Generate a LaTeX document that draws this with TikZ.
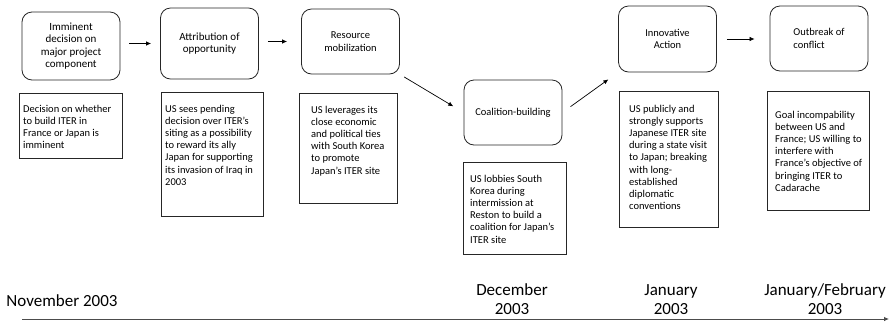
\documentclass[tikz,border=0pt]{standalone}
\usepackage{fontspec}
\setmainfont{Carlito}
\usetikzlibrary{arrows.meta, calc}

\begin{document}
\begin{tikzpicture}[x=1pt, y=-1pt,
    stage/.style={draw=black!85, line width=0.8pt, rounded corners=10pt, minimum width=98pt, align=center, font=\fontsize{10.5}{12.6}\selectfont},
    note/.style={draw=black!85, line width=0.8pt, anchor=north west},
    notetext/.style={anchor=base west, inner sep=0pt, font=\fontsize{10.5}{12.2}\selectfont},
    date/.style={anchor=base, inner sep=0pt, font=\fontsize{17}{19.5}\selectfont},
    flow/.style={-{Latex[length=5pt,width=4.5pt]}, line width=0.7pt}]
  \useasboundingbox (0,0) rectangle (892,325);

  % stages
  \node[stage, minimum height=68pt, font=\fontsize{11}{12.6}\selectfont] (r1) at (71,46) {Imminent\\decision on\\major project\\component};
  \node[stage, minimum height=71pt, font=\fontsize{11}{12.6}\selectfont] (r2) at (209.5,43.5) {Attribution of\\opportunity};
  \node[stage, minimum height=65pt] (r3) at (350.5,41.5) {Resource\\mobilization};
  \node[stage, minimum height=65pt] (r4) at (513,112.5) {Coalition-building};
  \node[stage, minimum height=66pt] (r5) at (667.5,39) {Innovative\\Action};
  \node[stage, minimum height=65pt, align=left] (r6) at (819,38.5) {Outbreak of\\conflict};

  \draw[flow, shorten <=9pt, shorten >=9pt] (r1.east |- r2.west) -- (r2.west);
  \draw[flow, shorten <=9pt, shorten >=14pt] (r2.east |- r3.west) -- (r3.west);
  \draw[flow, shorten <=5pt, shorten >=12pt] (r3.south east) -- (r4.west);
  \draw[flow, shorten <=10pt, shorten >=12pt] (r4.east) -- (r5.south west);
  \draw[flow, shorten <=10pt, shorten >=15pt] (r5.east) -- (r5.east -| r6.west);

  % notes
  \node[note, minimum width=103pt, minimum height=65pt] (n1) at (19,93) {};
  \node[notetext] (t1) at ($(n1.north west)+(4,19)$) {\parbox[t]{100pt}{\raggedright
    Decision on whether\\to build ITER in\\France or Japan is\\imminent}};
  \node[note, minimum width=102pt, minimum height=124pt] (n2) at (161,92) {};
  \node[notetext] (t2) at ($(n2.north west)+(4,20)$) {\parbox[t]{100pt}{\raggedright
    US sees pending\\decision over ITER’s\\siting as a possibility\\to reward its ally\\Japan for supporting\\its invasion of Iraq in\\2003}};
  \node[note, minimum width=98pt, minimum height=110pt] (n3) at (299,93) {};
  \node[notetext] (t3) at ($(n3.north west)+(12,20)$) {\parbox[t]{90pt}{\raggedright
    US leverages its\\close economic\\and political ties\\with South Korea\\to promote\\Japan’s ITER site}};
  \node[note, minimum width=103pt, minimum height=92pt] (n4) at (463,162) {};
  \node[notetext] (t4) at ($(n4.north west)+(7,20)$) {\parbox[t]{100pt}{\raggedright
    US lobbies South\\Korea during\\intermission at\\Reston to build a\\coalition for Japan’s\\ITER site}};
  \node[note, minimum width=99pt, minimum height=136pt] (n5) at (619,91) {};
  \node[notetext] (t5) at ($(n5.north west)+(10,21)$) {\parbox[t]{100pt}{\raggedright
    US publicly and\\strongly supports\\Japanese ITER site\\during a state visit\\to Japan; breaking\\with long-\\established\\diplomatic\\conventions}};
  \node[note, minimum width=102pt, minimum height=119pt] (n6) at (767,91) {};
  \node[notetext] (t6) at ($(n6.north west)+(8,27)$) {\parbox[t]{100pt}{\raggedright
    Goal incompability\\between US and\\France; US willing to\\interfere with\\France’s objective of\\bringing ITER to\\Cadarache}};

  % timeline
  \coordinate (tl-start) at (22,319);
  \coordinate (tl-end) at (889,319);
  \draw[draw=black!70, line width=0.8pt, -{Latex[length=5pt,width=4.5pt]}] (tl-start) -- (tl-end);
  \node[date] (m1) at (62,306) {November 2003};
  \node[date] (m2) at (512,295) {\parbox[t]{100pt}{\centering December\\2003}};
  \node[date] (m3) at (671,295) {\parbox[t]{100pt}{\centering January\\2003}};
  \node[date] (m4) at (825,295) {\parbox[t]{140pt}{\centering January/February\\2003}};
\end{tikzpicture}
\end{document}
